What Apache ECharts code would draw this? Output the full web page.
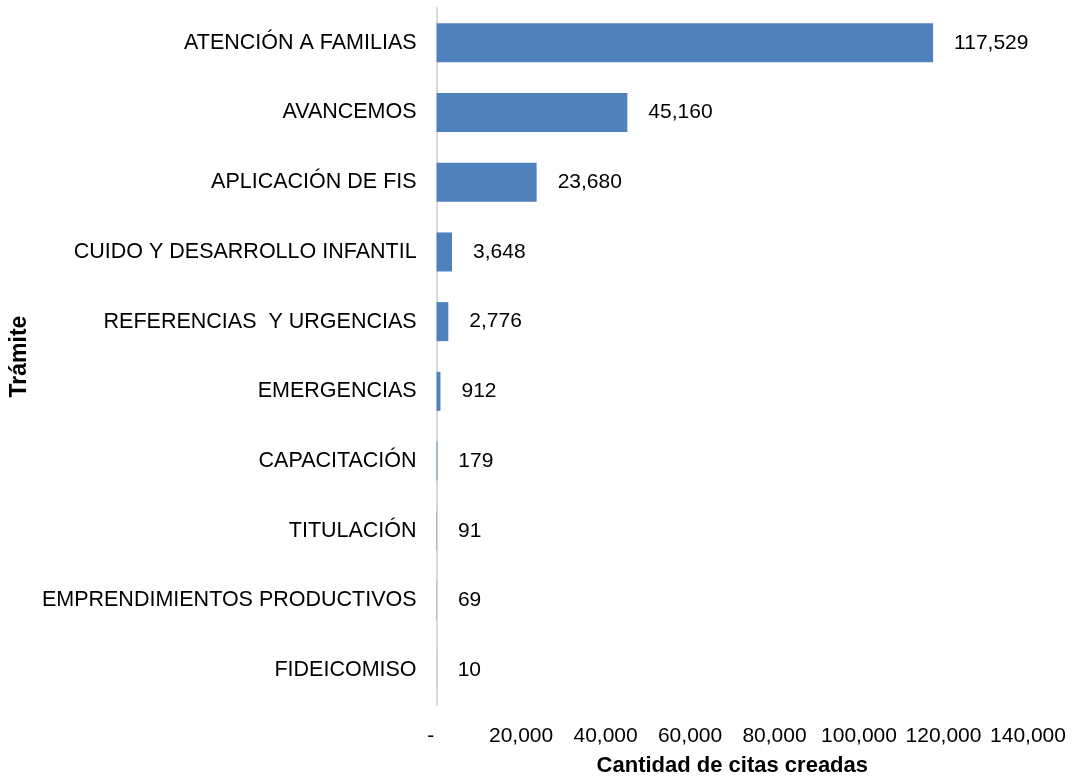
<!DOCTYPE html>
<html>
<head>
<meta charset="utf-8">
<script src="https://cdn.jsdelivr.net/npm/echarts@6/dist/echarts.min.js"></script>
<style>html,body{margin:0;padding:0;background:#fff;}#c{width:1077px;height:782px;}</style>
</head>
<body>
<div id="c"></div>
<script>
const categories = ["ATENCIÓN A FAMILIAS","AVANCEMOS","APLICACIÓN DE FIS","CUIDO Y DESARROLLO INFANTIL","REFERENCIAS  Y URGENCIAS","EMERGENCIAS","CAPACITACIÓN","TITULACIÓN","EMPRENDIMIENTOS PRODUCTIVOS","FIDEICOMISO"];
const values = [117529,45160,23680,3648,2776,912,179,91,69,10];
const xTicks = [0,20000,40000,60000,80000,100000,120000,140000];

const fmt = v => v === 0 ? '-  ' : v.toLocaleString('en-US');
const chart = echarts.init(document.getElementById('c'));
chart.setOption({
  animation:false,
  textStyle:{fontFamily:'Liberation Sans, Arial, sans-serif'},
  grid:{left:436,right:49,top:8,bottom:70,containLabel:false},
  xAxis:{
    type:'value',min:xTicks[0],max:xTicks[xTicks.length-1],interval:20000,
    axisLine:{show:false},axisTick:{show:false},splitLine:{show:false},
    axisLabel:{color:'#000',fontSize:21,margin:21,formatter:fmt},
    name:'Cantidad de citas creadas',nameLocation:'middle',nameGap:50,
    nameTextStyle:{color:'#000',fontSize:22,fontWeight:'bold'}
  },
  yAxis:{
    type:'category',data:categories,inverse:true,
    axisLine:{show:true,lineStyle:{color:'#d9d9d9',width:2}},
    axisTick:{show:false},
    axisLabel:{color:'#000',fontSize:21.5,margin:20},
    name:'Trámite',nameLocation:'middle',nameGap:404,nameRotate:90,
    nameTextStyle:{color:'#000',fontSize:23,fontWeight:'bold'}
  },
  series:[{
    type:'bar',data:values,barWidth:'56%',
    itemStyle:{color:'#4f81bd'},
    label:{show:true,position:'right',distance:21,color:'#000',fontSize:21,
      formatter:p=>p.value.toLocaleString('en-US')}
  }]
});
</script>
</body>
</html>
